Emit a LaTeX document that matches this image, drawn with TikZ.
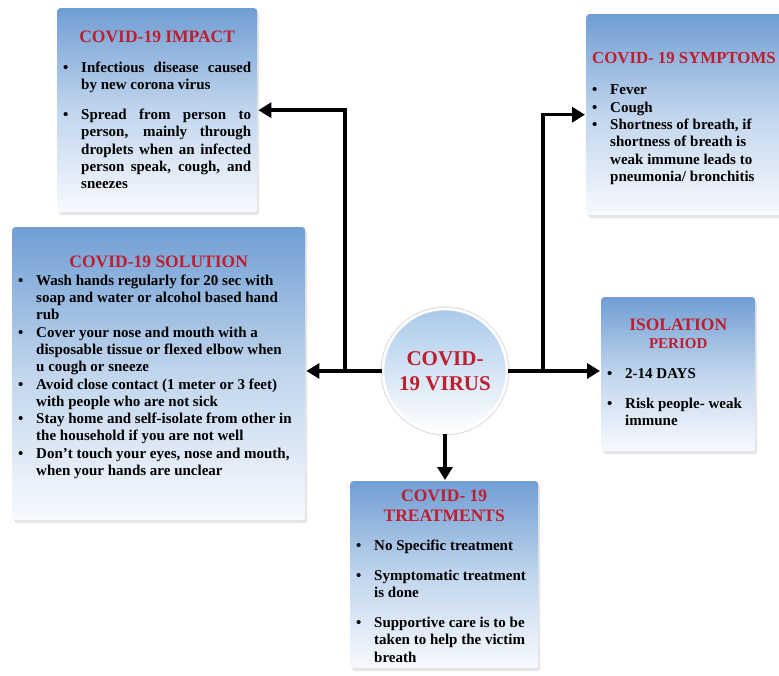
\documentclass[tikz,border=0pt]{standalone}
\usepackage{fontspec}
\setmainfont{Liberation Serif}
\usetikzlibrary{shadows,arrows.meta}
\definecolor{panelblue}{RGB}{112,158,212}
\definecolor{panelwhite}{RGB}{247,250,254}
\definecolor{hubblue}{RGB}{170,202,234}
\definecolor{titlered}{RGB}{190,30,45}
\newcommand{\itm}[1]{\par\noindent\hangindent=18pt\hangafter=1\makebox[18pt][l]{\textbullet}#1\par}
\newcommand{\ttl}[1]{{\centering\color{titlered}\fontsize{17.5}{20}\selectfont #1\par}}
\tikzset{
  panel/.style={anchor=north west, inner xsep=6pt, inner ysep=0pt, rounded corners=3pt,
    top color=panelblue, bottom color=panelwhite, middle color=panelblue!40!panelwhite,
    general shadow={fill=black!10, shadow xshift=2pt, shadow yshift=-3pt},
    font=\bfseries\fontsize{15}{17.3}\selectfont},
  hub/.style={circle, minimum size=124pt, inner sep=0pt, draw=white, line width=2.5pt,
    top color=hubblue, bottom color=white, align=center, text=titlered,
    general shadow={fill=black!12, shadow scale=1.04},
    font=\bfseries\fontsize{21}{25}\selectfont},
  link/.style={line width=3.5pt, -{Triangle[length=13pt,width=15pt]}, shorten >=1pt}
}
\begin{document}
\begin{tikzpicture}[x=1pt, y=-1pt]
\clip (0,0) rectangle (779,676);
\fill[white] (0,0) rectangle (779,676);
\node[panel] (impact) at (57,8) {\parbox[c][204pt][t]{188pt}{\vspace*{22.5pt}\ttl{COVID-19 IMPACT}\vspace{12.7pt}
\itm{Infectious disease caused\linebreak by new corona virus}\vspace{12.7pt}
\itm{Spread from person to\linebreak person, mainly through\linebreak droplets when an infected\linebreak person speak, cough, and\linebreak sneezes}}};
\node[panel] (symptoms) at (586,14) {\parbox[c][201pt][t]{188pt}{\raggedright\vspace*{38.5pt}{\color{titlered}\fontsize{16.8}{20}\selectfont\makebox[\linewidth][l]{COVID- 19 SYMPTOMS}\par}\vspace{13.7pt}
\itm{Fever}
\itm{Cough}
\itm{Shortness of breath, if\newline shortness of breath is\newline weak immune leads to\newline pneumonia/ bronchitis}}};
\node[panel] (solution) at (12,227) {\parbox[c][293pt][t]{281pt}{\raggedright\vspace*{28.5pt}\ttl{COVID-19 SOLUTION}\vspace{0.7pt}
\itm{Wash hands regularly for 20 sec with\newline soap and water or alcohol based hand\newline rub}
\itm{Cover your nose and mouth with a\newline disposable tissue or flexed elbow when\newline u cough or sneeze}
\itm{Avoid close contact (1 meter or 3 feet)\newline with people who are not sick}
\itm{Stay home and self-isolate from other in\newline the household if you are not well}
\itm{Don't touch your eyes, nose and mouth,\newline when your hands are unclear}}};
\node[panel] (isolation) at (601,297) {\parbox[c][154pt][t]{142pt}{\raggedright\vspace*{21.5pt}{\centering\color{titlered}\fontsize{17.5}{18}\selectfont ISOLATION\\\fontsize{15}{18}\selectfont PERIOD\par}\vspace{12.7pt}
\itm{2-14 DAYS}\vspace{12.7pt}
\itm{Risk people- weak\newline immune}}};
\node[panel] (treatment) at (350,481) {\parbox[c][187pt][t]{176pt}{\raggedright\vspace*{8.5pt}\ttl{COVID- 19\\TREATMENTS}\vspace{11.7pt}
\itm{No Specific treatment}\vspace{12.7pt}
\itm{Symptomatic treatment\newline is done}\vspace{12.7pt}
\itm{Supportive care is to be\newline taken to help the victim\newline breath}}};
\node[hub] (virus) at (445,371) {COVID-\\19 VIRUS};
\coordinate (lj) at (345,371);
\coordinate (rj) at (543,371);
\draw[link] (virus.west) -- (virus.west -| solution.east);
\draw[link] (lj) |- (impact.east);
\draw[link] (virus.east) -- (virus.east -| isolation.west);
\draw[link] (rj) |- (symptoms.west);
\draw[link] (virus.south) -- (virus.south |- treatment.north);
\end{tikzpicture}
\end{document}
